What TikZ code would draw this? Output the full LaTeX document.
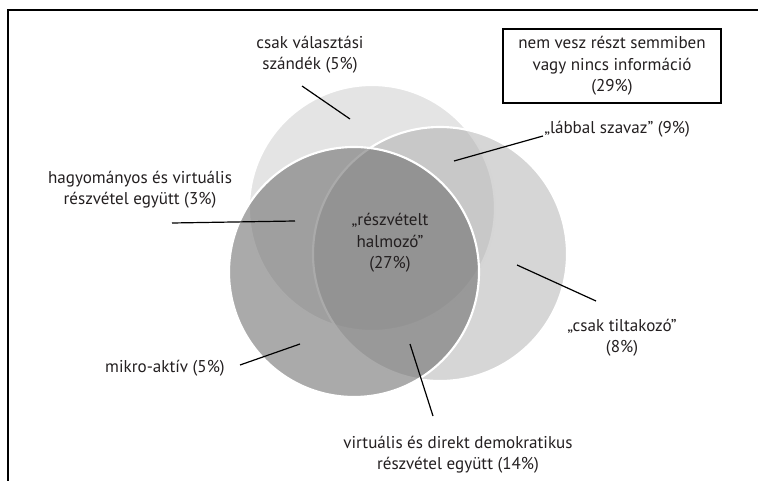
\documentclass[tikz,border=0pt]{standalone}
\usepackage{fontspec}
\setmainfont{PT Sans}
\usetikzlibrary{positioning}

\definecolor{textgray}{HTML}{231F20}
\definecolor{setA}{HTML}{E4E4E4}
\definecolor{setB}{HTML}{B0B0B0}
\definecolor{setC}{HTML}{6F6F6F}

\tikzset{
  label/.style={align=center, text=textgray, inner sep=0pt,
    font=\fontsize{12.8}{16}\selectfont},
  leader/.style={thin, color=black, line width=0.9pt},
  rim/.style={color=white, line width=1.6pt}
}

\begin{document}
\begin{tikzpicture}[x=0.75pt,y=-0.75pt]
\useasboundingbox (0,0) rectangle (758,481);
%open frame
\draw[line width=1pt,color=black] (8,481) -- (8,10) -- (758,10);
%circles
\fill[color=setA] (372,208) circle (123);
\draw[rim] (372,208) circle (123);
\fill[color=setB,fill opacity=0.52] (440,254) circle (127);
\draw[rim] (440,254) circle (127);
\fill[color=setC,fill opacity=0.59] (354,272) circle (125);
\draw[rim] (354,272) circle (125);
%labels
\node[label] (valasztasi) at (310,55) {csak választási\\szándék (5\%)};
\node[label,draw=black,line width=0.8pt,minimum width=163.5pt,minimum height=55.5pt]
  (semmi) at (612,66) {nem vesz részt semmiben\\vagy nincs információ\\(29\%)};
\node[label,anchor=west] (labbal) at (544,129) {„lábbal szavaz” (9\%)};
\node[label] (hagyomanyos) at (140,190) {hagyományos és virtuális\\részvétel együtt (3\%)};
\node[label] (halmozo) at (390,243) {„részvételt\\halmozó”\\(27\%)};
\node[label] (tiltakozo) at (622,338) {„csak tiltakozó”\\(8\%)};
\node[label] (mikro) at (165,368) {mikro-aktív (5\%)};
\node[label] (virtualis) at (458,455) {virtuális és direkt demokratikus\\részvétel együtt (14\%)};
%leader lines
\coordinate (v1) at (302,86);   \coordinate (v2) at (350,119);
\coordinate (l1) at (543,136);  \coordinate (l2) at (454,161);
\coordinate (h1) at (172,223);  \coordinate (h2) at (295,221);
\coordinate (m1) at (240,365);  \coordinate (m2) at (300,344);
\coordinate (d1) at (433,416);  \coordinate (d2) at (410,344);
\coordinate (t1) at (596,301);  \coordinate (t2) at (517,265);
\draw[leader] (v1) -- (v2);
\draw[leader] (l1) -- (l2);
\draw[leader] (h1) -- (h2);
\draw[leader] (m1) -- (m2);
\draw[leader] (d1) -- (d2);
\draw[leader] (t1) -- (t2);
\end{tikzpicture}
\end{document}
